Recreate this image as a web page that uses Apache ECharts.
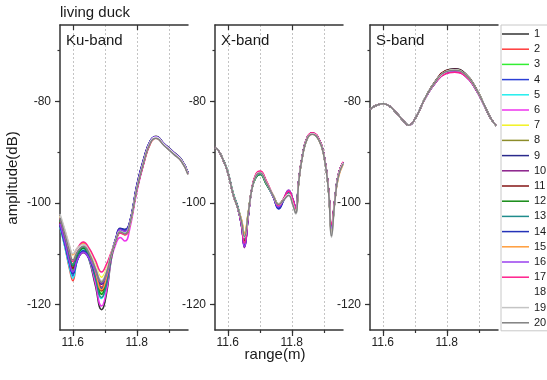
<!DOCTYPE html>
<html>
<head>
<meta charset="utf-8">
<script src="https://cdn.jsdelivr.net/npm/echarts@6/dist/echarts.min.js"></script>
<style>
  html, body { margin: 0; padding: 0; background: #fff; }
  #chart { width: 547px; height: 380px; }
</style>
</head>
<body>
<div id="chart"></div>
<script>
// Echo amplitude vs range for a living duck, 20 repeated scans per band.
const FONT = '"Liberation Sans", Arial, sans-serif';

const scanNames = ['1','2','3','4','5','6','7','8','9','10','11','12','13','14','15','16','17','18','19','20'];
const scanColors = ['#333333','#ff3a3a','#33ee33','#2b3fd6','#22eeee','#ee33ee','#f2f222','#8c8c2a',
                    '#2a2a8c','#8a1f8a','#851515','#138a13','#1f8c8c','#2433b8','#ff9c3a','#9a40ee',
                    '#ff1f8c','#ffffff','#c4c4c4','#808080'];

const bandTitles = ['Ku-band', 'X-band', 'S-band'];
const rangeMin = 11.56;
const rangeMax = 11.96;
const ampMin = -125;
const ampMax = -65;
const rangeLabels = [11.6, 11.8];
const rangeGrid = [11.6, 11.7, 11.8, 11.9];
const ampLabels = [-120, -100, -80];
const ampTicks = [-120, -110, -100, -90, -80, -70];

// range samples (m)
const rangeKu = [11.56, 11.575, 11.59, 11.60, 11.615, 11.633, 11.65, 11.67, 11.69, 11.705, 11.72, 11.735,
                 11.748, 11.763, 11.778, 11.80, 11.822, 11.843, 11.86, 11.885, 11.915, 11.94, 11.96];
const rangeX = [11.56, 11.57, 11.585, 11.60, 11.617, 11.632, 11.643, 11.652, 11.664, 11.675, 11.688, 11.701,
                11.72, 11.742, 11.759, 11.775, 11.79, 11.803, 11.812, 11.822, 11.833, 11.848, 11.864, 11.885,
                11.901, 11.915, 11.924, 11.934, 11.945, 11.96];
const rangeS = [11.56, 11.58, 11.602, 11.62, 11.64, 11.665, 11.681, 11.702, 11.733, 11.765, 11.796, 11.825,
                11.859, 11.89, 11.916, 11.937, 11.955];

// Ku-band amplitude (dB), scans 1..20
const ku01 = [-103.8,-107.3,-111.2,-113.0,-110.3,-108.8,-111.0,-116.1,-121.0,-118.0,-111.2,-107.2,-105.6,-106.0,-104.2,-97.2,-91.8,-87.9,-86.9,-88.3,-90.0,-91.5,-94.0];
const ku02 = [-104.5,-108.6,-113.1,-115.3,-110.4,-107.8,-109.4,-113.0,-116.5,-114.3,-110.3,-107.2,-105.6,-106.0,-104.2,-97.5,-92.2,-88.3,-87.3,-88.6,-90.2,-91.7,-94.2];
const ku03 = [-103.5,-107.2,-111.3,-113.2,-110.2,-108.6,-110.3,-114.1,-117.8,-115.5,-110.6,-107.2,-105.6,-106.0,-104.2,-97.0,-91.6,-87.8,-87.0,-88.4,-90.1,-91.6,-94.1];
const ku04 = [-104.6,-108.3,-112.4,-114.4,-111.2,-109.5,-110.9,-114.0,-117.0,-115.1,-110.4,-106.9,-105.2,-105.4,-103.8,-96.6,-91.3,-87.7,-87.0,-88.4,-90.1,-91.6,-94.1];
const ku05 = [-104.8,-108.6,-112.8,-114.8,-111.2,-109.2,-110.9,-115.0,-118.8,-116.4,-110.8,-107.2,-105.6,-106.0,-104.2,-97.1,-91.7,-87.9,-87.1,-88.5,-90.2,-91.7,-94.2];
const ku06 = [-103.6,-107.0,-110.8,-112.6,-109.9,-108.5,-110.6,-115.6,-120.3,-117.4,-111.1,-108.0,-106.8,-107.5,-105.1,-97.8,-92.2,-88.1,-87.2,-88.5,-90.2,-91.7,-94.2];
const ku07 = [-102.8,-105.9,-109.4,-111.0,-109.1,-108.0,-109.2,-112.0,-114.6,-113.0,-109.9,-107.4,-105.9,-106.3,-104.4,-97.2,-91.8,-87.9,-87.1,-88.5,-90.2,-91.7,-94.2];
const ku08 = [-103.3,-106.6,-110.3,-112.0,-109.9,-108.7,-110.3,-113.9,-117.4,-115.2,-110.5,-107.3,-105.8,-106.2,-104.3,-97.0,-91.6,-87.8,-87.0,-88.4,-90.1,-91.6,-94.1];
const ku09 = [-104.4,-108.0,-111.9,-113.8,-111.1,-109.6,-110.8,-113.4,-116.0,-114.4,-110.2,-106.8,-105.0,-105.2,-103.7,-96.5,-91.2,-87.7,-87.0,-88.4,-90.1,-91.6,-94.1];
const ku10 = [-104.0,-107.6,-111.6,-113.5,-111.1,-109.8,-110.9,-113.4,-115.8,-114.3,-110.2,-107.0,-105.2,-105.5,-103.9,-96.7,-91.4,-87.8,-87.0,-88.4,-90.1,-91.6,-94.1];
const ku11 = [-103.7,-107.2,-111.0,-112.8,-109.9,-108.4,-110.0,-113.7,-117.2,-115.0,-110.4,-107.3,-105.7,-106.1,-104.2,-97.4,-92.0,-88.1,-87.2,-88.5,-90.2,-91.7,-94.2];
const ku12 = [-103.4,-106.8,-110.6,-112.4,-110.1,-108.9,-110.5,-114.4,-118.0,-115.7,-110.6,-107.2,-105.6,-106.0,-104.2,-97.1,-91.7,-87.9,-87.1,-88.5,-90.2,-91.7,-94.2];
const ku13 = [-103.2,-106.6,-110.4,-112.2,-109.9,-108.6,-110.4,-114.6,-118.6,-116.1,-110.7,-107.3,-105.7,-106.1,-104.2,-97.0,-91.6,-87.8,-87.0,-88.4,-90.1,-91.6,-94.1];
const ku14 = [-104.3,-108.0,-112.1,-114.0,-111.0,-109.4,-110.7,-113.8,-116.8,-115.0,-110.4,-106.9,-105.1,-105.3,-103.8,-96.6,-91.3,-87.7,-87.0,-88.4,-90.1,-91.6,-94.1];
const ku15 = [-102.5,-105.4,-108.7,-110.2,-108.8,-108.0,-109.6,-113.5,-117.1,-114.8,-110.4,-107.3,-105.8,-106.2,-104.3,-97.2,-91.8,-88.0,-87.2,-88.6,-90.3,-91.8,-94.3];
const ku16 = [-104.1,-107.7,-111.7,-113.6,-111.1,-109.7,-110.8,-113.3,-115.7,-114.2,-110.1,-107.0,-105.3,-105.6,-103.9,-96.8,-91.5,-87.8,-87.0,-88.4,-90.1,-91.6,-94.1];
const ku17 = [-103.0,-106.2,-109.8,-111.5,-109.0,-107.7,-108.8,-111.2,-113.6,-112.1,-109.7,-107.4,-105.9,-106.3,-104.4,-97.3,-91.9,-88.0,-87.2,-88.6,-90.3,-91.8,-94.3];
const ku18 = [-102.6,-105.8,-109.3,-111.0,-109.3,-108.3,-109.5,-112.3,-115.0,-113.3,-110.0,-107.2,-105.6,-106.0,-104.2,-97.1,-91.7,-87.9,-87.1,-88.5,-90.2,-91.7,-94.2];
const ku19 = [-102.2,-105.2,-108.4,-110.0,-108.8,-108.2,-109.5,-112.5,-115.3,-113.5,-110.1,-107.2,-105.6,-106.0,-104.2,-97.2,-91.9,-88.1,-87.3,-88.7,-90.4,-91.9,-94.4];
const ku20 = [-102.9,-106.1,-109.5,-111.2,-109.5,-108.5,-109.8,-112.8,-115.6,-113.8,-110.1,-107.3,-105.7,-106.1,-104.2,-97.3,-91.9,-88.1,-87.3,-88.7,-90.4,-91.9,-94.4];

// X-band amplitude (dB), scans 1..20
const xb01 = [-89.1,-89.6,-91.5,-94.0,-98.4,-101.2,-104.0,-107.5,-102.3,-97.3,-94.6,-94.0,-95.9,-98.6,-100.4,-99.2,-97.9,-99.7,-101.4,-95.5,-90.8,-87.2,-86.3,-87.5,-90.8,-97.7,-105.5,-99.8,-94.6,-92.0];
const xb02 = [-89.1,-89.6,-91.5,-94.0,-98.4,-101.2,-104.2,-107.8,-102.4,-97.3,-94.4,-93.8,-95.7,-98.6,-100.5,-99.2,-97.8,-99.5,-101.2,-95.5,-90.8,-87.2,-86.3,-87.5,-90.8,-97.6,-104.8,-99.7,-94.6,-92.0];
const xb03 = [-89.1,-89.6,-91.4,-93.9,-98.2,-101.0,-103.9,-107.2,-102.2,-97.4,-95.0,-94.4,-96.3,-98.6,-100.4,-99.2,-98.0,-99.7,-101.3,-95.5,-90.8,-87.2,-86.3,-87.5,-90.8,-97.6,-105.2,-99.7,-94.6,-92.0];
const xb04 = [-89.1,-89.6,-91.5,-94.0,-98.4,-101.2,-104.5,-108.5,-102.6,-97.3,-94.7,-94.1,-96.0,-98.8,-101.2,-99.5,-97.7,-99.4,-101.0,-95.5,-90.8,-87.2,-86.3,-87.5,-90.8,-97.6,-105.0,-99.7,-94.6,-92.0];
const xb05 = [-89.1,-89.6,-91.5,-94.0,-98.3,-101.1,-104.1,-107.6,-102.3,-97.3,-94.8,-94.2,-96.1,-98.6,-100.5,-99.3,-98.0,-99.6,-101.2,-95.5,-90.8,-87.2,-86.3,-87.5,-90.8,-97.7,-105.3,-99.8,-94.6,-92.0];
const xb06 = [-89.1,-89.6,-91.5,-94.0,-98.4,-101.2,-104.6,-108.7,-102.6,-97.3,-94.5,-93.9,-95.8,-98.7,-100.6,-99.1,-97.6,-99.3,-101.0,-95.5,-90.8,-87.2,-86.3,-87.5,-90.8,-97.6,-105.0,-99.7,-94.6,-92.0];
const xb07 = [-89.1,-89.6,-91.5,-94.0,-98.4,-101.2,-103.4,-106.0,-101.8,-97.4,-94.6,-94.0,-95.9,-98.5,-100.2,-99.3,-98.3,-100.0,-101.6,-95.6,-90.9,-87.3,-86.4,-87.6,-90.9,-97.7,-105.6,-99.8,-94.8,-92.2];
const xb08 = [-89.1,-89.6,-91.5,-94.0,-98.4,-101.2,-103.6,-106.5,-102.0,-97.4,-94.7,-94.1,-96.0,-98.5,-100.2,-99.2,-98.2,-99.9,-101.5,-95.6,-90.9,-87.3,-86.4,-87.6,-90.9,-97.7,-105.5,-99.8,-94.8,-92.2];
const xb09 = [-89.1,-89.6,-91.5,-94.0,-98.4,-101.2,-104.5,-108.6,-102.6,-97.3,-94.6,-94.0,-95.9,-98.8,-101.0,-99.3,-97.6,-99.3,-100.9,-95.4,-90.8,-87.2,-86.3,-87.5,-90.8,-97.6,-105.0,-99.7,-94.6,-92.0];
const xb10 = [-89.1,-89.6,-91.5,-94.0,-98.4,-101.2,-104.6,-108.8,-102.7,-97.3,-94.5,-93.9,-95.8,-98.7,-100.7,-99.1,-97.5,-99.2,-100.8,-95.4,-90.8,-87.2,-86.3,-87.5,-90.8,-97.6,-105.0,-99.7,-94.6,-92.0];
const xb11 = [-89.1,-89.6,-91.5,-94.0,-98.4,-101.2,-104.0,-107.4,-102.2,-97.3,-94.6,-94.0,-95.9,-98.6,-100.4,-99.2,-97.9,-99.6,-101.3,-95.5,-90.8,-87.2,-86.3,-87.5,-90.8,-97.7,-105.3,-99.8,-94.6,-92.0];
const xb12 = [-89.1,-89.6,-91.4,-93.9,-98.2,-101.0,-104.0,-107.3,-102.2,-97.4,-95.0,-94.4,-96.3,-98.6,-100.4,-99.2,-98.0,-99.7,-101.4,-95.5,-90.8,-87.2,-86.3,-87.5,-90.8,-97.7,-105.4,-99.8,-94.6,-92.0];
const xb13 = [-89.1,-89.6,-91.4,-93.8,-98.1,-100.9,-103.9,-107.1,-102.1,-97.4,-94.9,-94.3,-96.2,-98.6,-100.3,-99.2,-98.0,-99.8,-101.5,-95.6,-90.9,-87.3,-86.4,-87.6,-90.9,-97.7,-105.6,-99.8,-94.7,-92.1];
const xb14 = [-89.1,-89.6,-91.5,-94.0,-98.4,-101.2,-104.4,-108.4,-102.5,-97.3,-94.7,-94.1,-96.0,-98.8,-101.1,-99.4,-97.7,-99.4,-101.0,-95.5,-90.8,-87.2,-86.3,-87.5,-90.8,-97.6,-105.1,-99.7,-94.6,-92.0];
const xb15 = [-89.1,-89.6,-91.5,-94.0,-98.4,-101.2,-103.3,-105.9,-101.8,-97.4,-94.6,-94.0,-95.9,-98.5,-100.2,-99.3,-98.4,-100.1,-101.8,-95.7,-91.0,-87.4,-86.5,-87.7,-91.0,-97.8,-105.8,-100.0,-95.2,-92.5];
const xb16 = [-89.1,-89.6,-91.5,-94.0,-98.4,-101.2,-104.5,-108.6,-102.6,-97.3,-94.5,-93.9,-95.8,-98.7,-100.8,-99.2,-97.5,-99.2,-100.9,-95.4,-90.8,-87.2,-86.3,-87.5,-90.8,-97.6,-105.0,-99.7,-94.6,-92.0];
const xb17 = [-89.1,-89.6,-91.5,-94.0,-98.4,-101.2,-104.2,-107.9,-102.4,-97.2,-94.3,-93.7,-95.6,-98.6,-100.5,-99.1,-97.7,-99.4,-101.1,-95.4,-90.7,-87.1,-86.2,-87.4,-90.7,-97.4,-104.2,-99.5,-94.5,-91.9];
const xb18 = [-89.1,-89.6,-91.5,-94.0,-98.4,-101.2,-103.7,-106.8,-102.1,-97.4,-94.6,-94.0,-95.9,-98.6,-100.3,-99.3,-98.3,-100.1,-101.8,-95.6,-90.9,-87.3,-86.4,-87.6,-90.9,-97.8,-106.0,-99.9,-94.7,-92.1];
const xb19 = [-89.1,-89.6,-91.5,-94.0,-98.4,-101.2,-103.6,-106.5,-102.0,-97.4,-94.7,-94.1,-96.0,-98.5,-100.2,-99.4,-98.6,-100.4,-102.2,-95.7,-91.0,-87.4,-86.5,-87.7,-91.0,-98.0,-106.8,-100.1,-94.9,-92.3];
const xb20 = [-89.1,-89.6,-91.5,-94.0,-98.4,-101.2,-103.7,-106.7,-102.0,-97.4,-94.7,-94.1,-96.0,-98.6,-100.3,-99.4,-98.5,-100.3,-102.0,-95.7,-91.0,-87.4,-86.5,-87.7,-91.0,-97.9,-106.5,-100.0,-94.9,-92.3];

// S-band amplitude (dB), scans 1..20
const sb01 = [-81.6,-80.8,-80.5,-80.9,-82.1,-83.9,-84.7,-83.3,-79.3,-76.0,-74.0,-73.6,-74.6,-77.3,-80.6,-83.3,-84.8];
const sb02 = [-81.6,-80.8,-80.5,-80.9,-82.1,-83.9,-84.7,-83.3,-79.3,-76.1,-74.3,-73.9,-74.9,-77.5,-80.6,-83.3,-84.8];
const sb03 = [-81.6,-80.8,-80.5,-80.9,-82.1,-83.9,-84.7,-83.3,-79.3,-76.1,-74.2,-73.8,-74.8,-77.4,-80.6,-83.3,-84.8];
const sb04 = [-81.6,-80.8,-80.5,-80.9,-82.1,-83.9,-84.7,-83.3,-79.4,-76.3,-74.5,-74.2,-75.1,-77.6,-80.7,-83.3,-84.8];
const sb05 = [-81.6,-80.8,-80.5,-80.9,-82.1,-83.9,-84.7,-83.3,-79.3,-76.2,-74.4,-74.0,-74.9,-77.5,-80.6,-83.3,-84.8];
const sb06 = [-81.6,-80.8,-80.5,-80.9,-82.1,-83.9,-84.7,-83.3,-79.4,-76.3,-74.6,-74.3,-75.1,-77.6,-80.7,-83.3,-84.8];
const sb07 = [-81.6,-80.8,-80.5,-80.9,-82.1,-83.9,-84.7,-83.3,-79.3,-76.1,-74.3,-73.9,-74.8,-77.4,-80.6,-83.3,-84.8];
const sb08 = [-81.6,-80.8,-80.5,-80.9,-82.1,-83.9,-84.7,-83.3,-79.3,-76.1,-74.2,-73.8,-74.8,-77.4,-80.6,-83.3,-84.8];
const sb09 = [-81.6,-80.8,-80.5,-80.9,-82.1,-83.9,-84.7,-83.3,-79.3,-76.0,-74.1,-73.7,-74.7,-77.3,-80.6,-83.3,-84.8];
const sb10 = [-81.6,-80.8,-80.5,-80.9,-82.1,-83.9,-84.7,-83.3,-79.3,-76.1,-74.3,-73.9,-74.9,-77.5,-80.6,-83.3,-84.8];
const sb11 = [-81.6,-80.8,-80.5,-80.9,-82.1,-83.9,-84.7,-83.3,-79.3,-76.0,-74.0,-73.7,-74.7,-77.3,-80.6,-83.3,-84.8];
const sb12 = [-81.6,-80.8,-80.5,-80.9,-82.1,-83.9,-84.7,-83.3,-79.3,-76.1,-74.2,-73.8,-74.8,-77.4,-80.6,-83.3,-84.8];
const sb13 = [-81.6,-80.8,-80.5,-80.9,-82.1,-83.9,-84.7,-83.3,-79.3,-76.2,-74.3,-74.0,-74.9,-77.5,-80.6,-83.3,-84.8];
const sb14 = [-81.6,-80.8,-80.5,-80.9,-82.1,-83.9,-84.7,-83.3,-79.4,-76.3,-74.5,-74.2,-75.0,-77.6,-80.7,-83.3,-84.8];
const sb15 = [-81.6,-80.8,-80.5,-80.9,-82.1,-83.9,-84.7,-83.3,-79.3,-76.1,-74.2,-73.9,-74.8,-77.4,-80.6,-83.3,-84.8];
const sb16 = [-81.6,-80.8,-80.5,-80.9,-82.1,-83.9,-84.7,-83.3,-79.3,-76.2,-74.4,-74.1,-75.0,-77.5,-80.6,-83.3,-84.8];
const sb17 = [-81.6,-80.8,-80.5,-80.9,-82.1,-83.9,-84.7,-83.3,-79.4,-76.3,-74.6,-74.3,-75.1,-77.6,-80.7,-83.3,-84.8];
const sb18 = [-81.6,-80.8,-80.5,-80.9,-82.1,-83.9,-84.7,-83.3,-79.3,-76.1,-74.2,-73.8,-74.8,-77.4,-80.6,-83.3,-84.8];
const sb19 = [-81.6,-80.8,-80.5,-80.9,-82.1,-83.9,-84.7,-83.3,-79.3,-76.1,-74.2,-73.9,-74.8,-77.4,-80.6,-83.3,-84.8];
const sb20 = [-81.6,-80.8,-80.5,-80.9,-82.1,-83.9,-84.7,-83.3,-79.3,-76.1,-74.2,-73.9,-74.8,-77.4,-80.6,-83.3,-84.8];

const kuScans = [ku01,ku02,ku03,ku04,ku05,ku06,ku07,ku08,ku09,ku10,ku11,ku12,ku13,ku14,ku15,ku16,ku17,ku18,ku19,ku20];
const xScans  = [xb01,xb02,xb03,xb04,xb05,xb06,xb07,xb08,xb09,xb10,xb11,xb12,xb13,xb14,xb15,xb16,xb17,xb18,xb19,xb20];
const sScans  = [sb01,sb02,sb03,sb04,sb05,sb06,sb07,sb08,sb09,sb10,sb11,sb12,sb13,sb14,sb15,sb16,sb17,sb18,sb19,sb20];

const bands = [
  { ranges: rangeKu, scans: kuScans },
  { ranges: rangeX,  scans: xScans },
  { ranges: rangeS,  scans: sScans }
];

// panel geometry
const panelLeft = [60, 215, 370];
const panelWidth = 128;
const panelTop = 25;
const panelHeight = 305;
const AXIS_COLOR = '#333';

const grids = [], xAxes = [], yAxes = [], series = [];

bands.forEach((band, p) => {
  grids.push({ left: panelLeft[p], top: panelTop, width: panelWidth, height: panelHeight,
               outerBoundsMode: 'none', containLabel: false });

  const axisLine = { show: true, onZero: false, lineStyle: { color: AXIS_COLOR, width: 1.5 } };
  const tickLine = { color: AXIS_COLOR, width: 1.2 };

  // bottom axis with labels, minor ticks and dotted grid
  xAxes.push({
    type: 'value', gridIndex: p, min: rangeMin, max: rangeMax, position: 'bottom',
    axisLine,
    axisTick: { show: true, inside: false, length: 3, customValues: rangeGrid, lineStyle: tickLine },
    axisLabel: { show: true, customValues: rangeLabels, margin: 7, fontSize: 12, color: '#222',
                 fontFamily: FONT, formatter: v => v.toFixed(1) },
    splitLine: { show: true, lineStyle: { color: '#c4c4c4', width: 1, type: [2, 2] } }
  });
  // bottom major ticks
  xAxes.push({
    type: 'value', gridIndex: p, min: rangeMin, max: rangeMax, position: 'bottom',
    axisLine: { show: false, onZero: false },
    axisTick: { show: true, inside: false, length: 6, customValues: rangeLabels, lineStyle: tickLine },
    axisLabel: { show: false }, splitLine: { show: false }
  });
  // top frame with inward ticks
  xAxes.push({
    type: 'value', gridIndex: p, min: rangeMin, max: rangeMax, position: 'top',
    axisLine,
    axisTick: { show: true, inside: true, length: 5, customValues: rangeLabels, lineStyle: tickLine },
    axisLabel: { show: false }, splitLine: { show: false }
  });

  yAxes.push({
    type: 'value', gridIndex: p, min: ampMin, max: ampMax, position: 'left',
    axisLine,
    axisTick: { show: true, inside: false, length: 2.5, customValues: ampTicks, lineStyle: tickLine },
    axisLabel: { show: true, customValues: ampLabels, margin: 9, fontSize: 12, color: '#222', fontFamily: FONT },
    splitLine: { show: false }
  });
  yAxes.push({
    type: 'value', gridIndex: p, min: ampMin, max: ampMax, position: 'left',
    axisLine: { show: false, onZero: false },
    axisTick: { show: true, inside: false, length: 5, customValues: ampLabels, lineStyle: tickLine },
    axisLabel: { show: false }, splitLine: { show: false }
  });

  band.scans.forEach((amps, k) => {
    series.push({
      type: 'line', name: scanNames[k],
      xAxisIndex: p * 3, yAxisIndex: p * 2,
      data: band.ranges.map((r, i) => [r, amps[i]]),
      smooth: 0.5,
      symbol: 'none', showSymbol: false,
      lineStyle: { color: scanColors[k], width: 1.5 },
      itemStyle: { color: scanColors[k] },
      emphasis: { disabled: true },
      silent: true
    });
  });
});

const textStyle = (size) => ({ font: size + 'px ' + FONT, fill: '#1a1a1a' });

const graphics = [
  { type: 'text', left: 60, top: 5, style: Object.assign({ text: 'living duck' }, textStyle(15)) },
  { type: 'text', x: 12.5, y: 178, rotation: Math.PI / 2,
    style: Object.assign({ text: 'amplitude(dB)', textAlign: 'center', textVerticalAlign: 'middle' }, textStyle(15)) },
  { type: 'text', x: 275, y: 355,
    style: Object.assign({ text: 'range(m)', textAlign: 'center', textVerticalAlign: 'middle' }, textStyle(15)) }
];
bandTitles.forEach((t, p) => {
  graphics.push({ type: 'text', left: panelLeft[p] + 6, top: 33,
                  style: Object.assign({ text: t }, textStyle(15)) });
});

const chart = echarts.init(document.getElementById('chart'), null, { renderer: 'canvas' });
chart.setOption({
  animation: false,
  backgroundColor: '#fff',
  grid: grids,
  xAxis: xAxes,
  yAxis: yAxes,
  series,
  graphic: graphics,
  legend: {
    orient: 'vertical', left: 501, top: 25,
    itemWidth: 27, itemHeight: 14, itemGap: 1.2,
    padding: [2, 12, 1, 1],
    borderColor: '#c8c8c8', borderWidth: 1,
    selectedMode: false,
    icon: 'path://M0,0L54,0L54,3L0,3Z',
    data: scanNames,
    textStyle: { fontSize: 11, color: '#1a1a1a', fontFamily: FONT, lineHeight: 14 }
  }
});
</script>
</body>
</html>
